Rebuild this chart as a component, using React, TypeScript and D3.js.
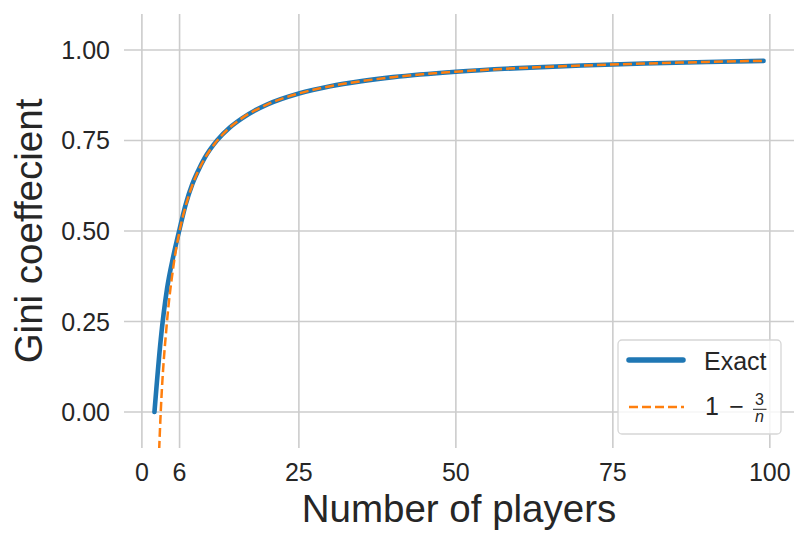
import React from "react";
import * as d3 from "d3";

const nValues = [2, 3, 4, 5, 6, 7, 8, 9, 10, 12, 14, 16, 18, 20, 25, 30, 35, 40, 50, 60, 70, 80, 90, 99];
const exactValues = [0, 0.2, 0.34, 0.43, 0.505, 0.575, 0.628, 0.668, 0.702, 0.751, 0.786, 0.812, 0.833, 0.85, 0.88, 0.9, 0.914, 0.925, 0.94, 0.95, 0.957, 0.9625, 0.967, 0.97];
const approxValues = [-0.5, 0, 0.25, 0.4, 0.5, 0.571, 0.625, 0.667, 0.7, 0.75, 0.786, 0.8125, 0.833, 0.85, 0.88, 0.9, 0.914, 0.925, 0.94, 0.95, 0.957, 0.9625, 0.967, 0.97];
const xTicks = [0, 6, 25, 50, 75, 100];
const yTicks = [0, 0.25, 0.5, 0.75, 1.0];

const W = 808;
const H = 545;
const left = 124;
const right = 794;
const top = 14;
const bottom = 448;
const FONT = "'Liberation Sans', Arial, 'DejaVu Sans', sans-serif";
const TEXT = "#262626";
const GRID = "#cccccc";
const BLUE = "#1f77b4";
const ORANGE = "#ff7f0e";

export default function App() {
  React.useEffect(() => {
    document.body.style.margin = "0";
  }, []);
  const x = d3.scaleLinear().domain([-2.85, 103.85]).range([left, right]);
  const y = d3.scaleLinear().domain([-0.0994, 1.0994]).range([bottom, top]);
  const exactPts: [number, number][] = nValues.map((n, i) => [n, exactValues[i]]);
  const approxPts: [number, number][] = nValues.map((n, i) => [n, approxValues[i]]);
  const line = d3
    .line<[number, number]>()
    .x((d) => x(d[0]))
    .y((d) => y(d[1]))
    .curve(d3.curveMonotoneX);

  return (
    <svg width={W} height={H} style={{ position: "absolute", left: 0, top: 0, background: "#fff" }} fontFamily={FONT}>
      <defs>
        <clipPath id="plotclip">
          <rect x={left} y={top} width={right - left} height={bottom - top} />
        </clipPath>
      </defs>
      <rect x={0} y={0} width={W} height={H} fill="#fff" />
      {/* grid */}
      {xTicks.map((t) => (
        <line key={"gx" + t} x1={x(t)} x2={x(t)} y1={top} y2={bottom} stroke={GRID} strokeWidth={1.6} />
      ))}
      {yTicks.map((t) => (
        <line key={"gy" + t} x1={left} x2={right} y1={y(t)} y2={y(t)} stroke={GRID} strokeWidth={1.6} />
      ))}
      {/* lines */}
      <g clipPath="url(#plotclip)">
        <path d={line(exactPts) || ""} fill="none" stroke={BLUE} strokeWidth={4.6} strokeLinecap="round" strokeLinejoin="round" />
        <path d={line(approxPts) || ""} fill="none" stroke={ORANGE} strokeWidth={2.5} strokeDasharray="9,4" />
      </g>
      {/* tick labels */}
      {xTicks.map((t) => (
        <text key={"tx" + t} x={x(t)} y={481} textAnchor="middle" fontSize={25} fill={TEXT}>
          {t}
        </text>
      ))}
      {yTicks.map((t) => (
        <text key={"ty" + t} x={110} y={y(t) + 9} textAnchor="end" fontSize={25} fill={TEXT}>
          {d3.format(".2f")(t)}
        </text>
      ))}
      {/* axis labels */}
      <text x={(left + right) / 2} y={522} textAnchor="middle" fontSize={38.5} fill={TEXT}>
        Number of players
      </text>
      <text
        transform={`translate(42, ${(top + bottom) / 2}) rotate(-90)`}
        textAnchor="middle"
        fontSize={38.5}
        fill={TEXT}
      >
        Gini coeffecient
      </text>
      {/* legend */}
      <g>
        <rect x={618} y={340} width={163} height={94} rx={4} fill="#fff" fillOpacity={0.8} stroke="#d6d6d6" strokeWidth={1.3} />
        <line x1={629} x2={683} y1={360} y2={360} stroke={BLUE} strokeWidth={5.5} strokeLinecap="round" />
        <text x={704} y={370} fontSize={25} fill={TEXT}>
          Exact
        </text>
        <line x1={629} x2={684} y1={407} y2={407} stroke={ORANGE} strokeWidth={2.5} strokeDasharray="9,4" />
        <text x={705} y={415} fontSize={25} fill={TEXT}>
          1
        </text>
        <text x={736.5} y={415} fontSize={25} fill={TEXT} textAnchor="middle">
          −
        </text>
        <text x={759.5} y={405} fontSize={16} fill={TEXT} textAnchor="middle">
          3
        </text>
        <line x1={753} x2={766.5} y1={409.3} y2={409.3} stroke={TEXT} strokeWidth={1} />
        <text x={759.5} y={422} fontSize={16} fill={TEXT} textAnchor="middle" fontStyle="italic">
          n
        </text>
      </g>
    </svg>
  );
}
